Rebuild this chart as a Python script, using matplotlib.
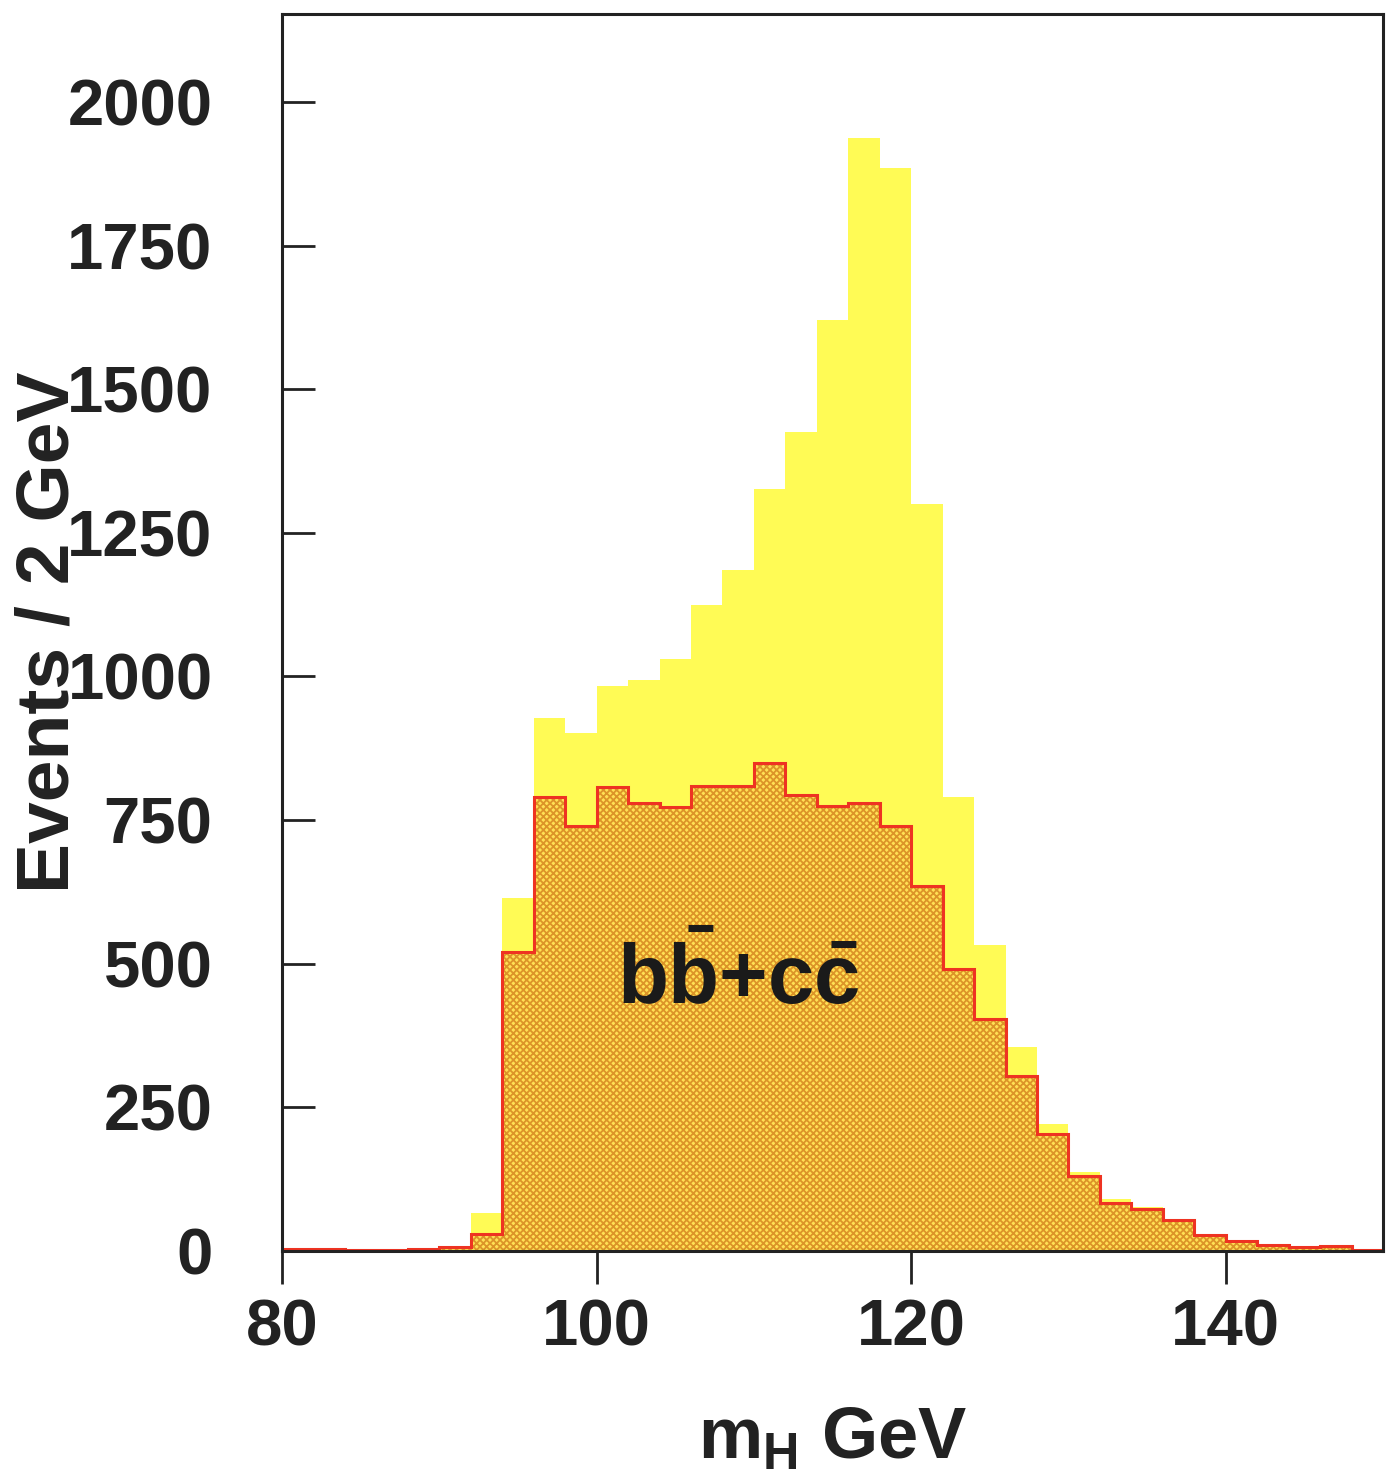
import matplotlib
matplotlib.use('Agg')
import matplotlib.pyplot as plt
import numpy as np

plt.rcParams['font.family'] = ['Liberation Sans', 'DejaVu Sans']
plt.rcParams['font.weight'] = 'bold'
plt.rcParams['axes.labelweight'] = 'bold'
plt.rcParams['mathtext.fontset'] = 'custom'
plt.rcParams['mathtext.rm'] = 'Liberation Sans:bold'
plt.rcParams['mathtext.bf'] = 'Liberation Sans:bold'
plt.rcParams['mathtext.it'] = 'Liberation Sans:bold'
plt.rcParams['hatch.linewidth'] = 1.3

# 2 GeV bins from 80 to 150 GeV
bin_edges = np.arange(80, 152, 2)

# total selected events per bin (yellow)
total = [4, 3, 2, 2, 3, 6, 66, 615, 927, 902, 983, 993, 1030, 1125, 1185,
         1327, 1425, 1620, 1937, 1885, 1301, 790, 532, 355, 221, 138, 90,
         77, 55, 28, 19, 11, 7, 9, 2]

# bb + cc background per bin (hatched)
bbcc = [4, 3, 2, 2, 3, 6, 30, 521, 790, 740, 807, 780, 772, 810, 810,
        850, 794, 775, 780, 740, 636, 490, 404, 305, 204, 130, 83,
        73, 53, 27, 18, 11, 7, 9, 2]

x_ticks = [80, 100, 120, 140]
y_ticks = [0, 250, 500, 750, 1000, 1250, 1500, 1750, 2000]

fig = plt.figure(figsize=(13.88, 14.79), dpi=100)
ax = fig.add_axes([0.2032, 0.1542, 0.7932, 0.8363])

ax.stairs(total, bin_edges, fill=True, color='#fffb55', linewidth=0)
ax.stairs(bbcc, bin_edges, fill=True, facecolor='#ffe055',
          edgecolor='#dc9428', hatch='xxxxx', linewidth=0)
ax.stairs(bbcc, bin_edges, color='#ee3322', linewidth=2.2)

ax.text(109, 472, r'$\mathbf{b\bar{b}{+}c\bar{c}}$', fontsize=60,
        ha='center', va='center', color='#1a1a1a')

ax.set_xlim(80, 150)
ax.set_ylim(0, 2153)
ax.set_xticks(x_ticks)
ax.set_yticks(y_ticks)
ax.tick_params(axis='y', direction='in', length=24, width=2, pad=50,
               labelsize=47, colors='#222222')
ax.tick_params(axis='x', direction='out', length=24, width=2, pad=10,
               labelsize=47, colors='#222222')
for s in ax.spines.values():
    s.set_linewidth(2.2)
    s.set_color('#222222')

ax.set_xlabel(r'$\mathbf{m_H}$ GeV', fontsize=52, color='#222222')
ax.set_ylabel('Events / 2 GeV', fontsize=54, color='#222222')
ax.yaxis.set_label_coords(-0.18, 0.5)
ax.xaxis.set_label_coords(0.5, -0.125)

fig.savefig('out.png', dpi=100)
